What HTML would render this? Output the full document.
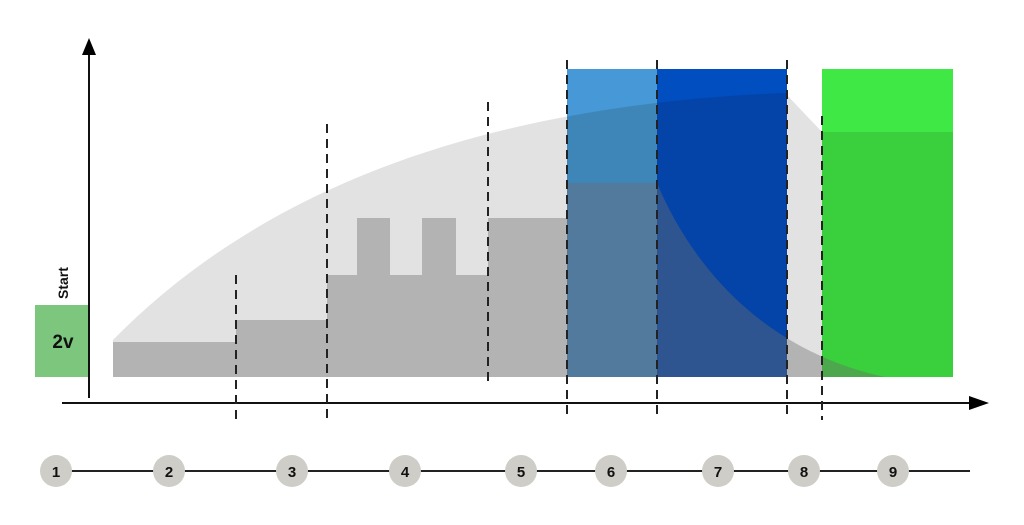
<!DOCTYPE html>
<html><head><meta charset="utf-8"><style>html,body{margin:0;padding:0;background:#fff}svg{display:block}</style></head>
<body>
<svg width="1024" height="525" viewBox="0 0 1024 525" xmlns="http://www.w3.org/2000/svg" font-family="Liberation Sans, sans-serif">
<defs>
<path id="lg" d="M113,340 C260,190 480,105 785,93 L822,132 L822,377 L113,377 Z"/>
<path id="dg" d="M113,342 H236 V320 H327 V275 H357 V218 H390 V275 H422 V218 H456 V275 H488 V218 H567 V183 H657 C690,262 760,350 885,377 L113,377 Z"/>
<clipPath id="b1"><rect x="567" y="69" width="90" height="308"/></clipPath>
<clipPath id="b2"><rect x="657" y="69" width="130" height="308"/></clipPath>
<clipPath id="g1"><rect x="822" y="69" width="131" height="308"/></clipPath>
</defs>
<use href="#lg" fill="#e2e2e2"/>
<use href="#dg" fill="#b3b3b3"/>
<!-- blue 1 -->
<rect x="567" y="69" width="90" height="308" fill="#4699d6"/>
<g clip-path="url(#b1)"><use href="#lg" fill="#3e86b8"/><use href="#dg" fill="#527a9c"/></g>
<!-- blue 2 -->
<rect x="657" y="69" width="130" height="308" fill="#004ec0"/>
<g clip-path="url(#b2)"><use href="#lg" fill="#0444a8"/><use href="#dg" fill="#2e558f"/></g>
<!-- green -->
<rect x="822" y="69" width="131" height="308" fill="#40e845"/>
<g clip-path="url(#g1)"><rect x="822" y="132" width="131" height="245" fill="#39cf3d"/><use href="#dg" fill="#4da84d"/></g>
<!-- start box -->
<rect x="35" y="305" width="54" height="72" fill="#7dc67e"/>
<text x="63" y="348" font-size="19" font-weight="bold" text-anchor="middle" fill="#111">2v</text>
<text transform="translate(68,299) rotate(-90)" font-size="14" font-weight="bold" fill="#111">Start</text>
<!-- axes -->
<line x1="89" y1="50" x2="89" y2="398" stroke="#111" stroke-width="2"/>
<polygon points="89,38 82,55 96,55" fill="#000"/>
<line x1="62" y1="403" x2="972" y2="403" stroke="#111" stroke-width="2"/>
<polygon points="989,403 969,396 969,410" fill="#000"/>
<!-- dashed lines -->
<g stroke="#222" stroke-width="2" stroke-dasharray="9,6">
<line x1="236" y1="275" x2="236" y2="420"/>
<line x1="327" y1="124" x2="327" y2="420"/>
<line x1="488" y1="102" x2="488" y2="382"/>
<line x1="567" y1="60" x2="567" y2="420"/>
<line x1="657" y1="60" x2="657" y2="420"/>
<line x1="787" y1="60" x2="787" y2="420"/>
<line x1="822" y1="116" x2="822" y2="420"/>
</g>
<!-- timeline -->
<line x1="56" y1="471" x2="970" y2="471" stroke="#222" stroke-width="2"/>
<g fill="#cfcdc7">
<circle cx="56" cy="471" r="16"/><circle cx="169" cy="471" r="16"/><circle cx="292" cy="471" r="16"/>
<circle cx="405" cy="471" r="16"/><circle cx="521" cy="471" r="16"/><circle cx="611" cy="471" r="16"/>
<circle cx="718" cy="471" r="16"/><circle cx="804" cy="471" r="16"/><circle cx="893" cy="471" r="16"/>
</g>
<g font-size="15" font-weight="bold" text-anchor="middle" fill="#111">
<text x="56" y="477">1</text><text x="169" y="477">2</text><text x="292" y="477">3</text>
<text x="405" y="477">4</text><text x="521" y="477">5</text><text x="611" y="477">6</text>
<text x="718" y="477">7</text><text x="804" y="477">8</text><text x="893" y="477">9</text>
</g>
</svg>
</body></html>
